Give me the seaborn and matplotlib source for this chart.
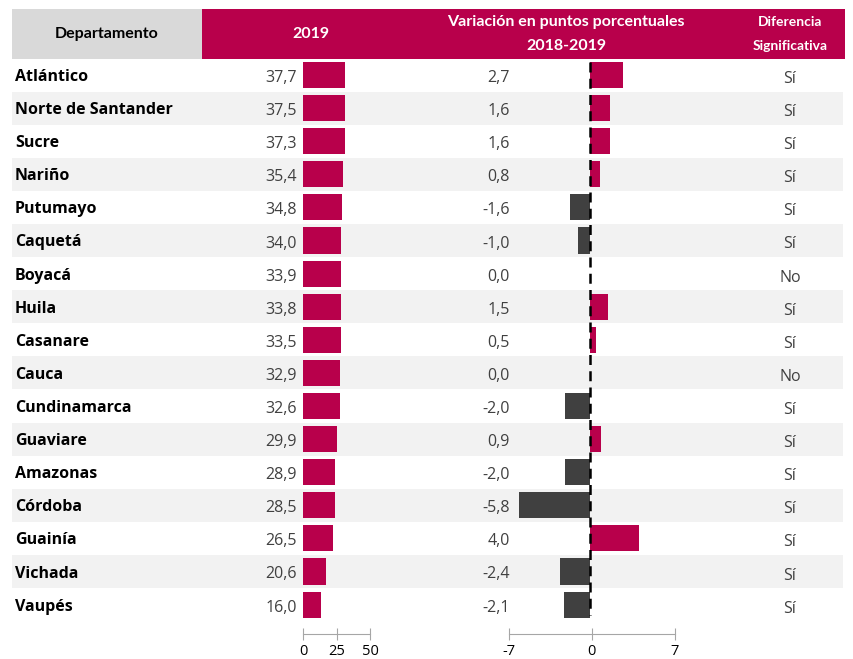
import matplotlib
matplotlib.use("Agg")
import matplotlib.pyplot as plt
from matplotlib.patches import Rectangle
import seaborn as sns
import pandas as pd

departamentos = ["Atlántico", "Norte de Santander", "Sucre", "Nariño", "Putumayo", "Caquetá",
                 "Boyacá", "Huila", "Casanare", "Cauca", "Cundinamarca", "Guaviare", "Amazonas",
                 "Córdoba", "Guainía", "Vichada", "Vaupés"]
valor_2019 = [37.7, 37.5, 37.3, 35.4, 34.8, 34.0, 33.9, 33.8, 33.5, 32.9, 32.6, 29.9, 28.9,
              28.5, 26.5, 20.6, 16.0]
variacion = [2.7, 1.6, 1.6, 0.8, -1.6, -1.0, 0.0, 1.5, 0.5, 0.0, -2.0, 0.9, -2.0, -5.8, 4.0,
             -2.4, -2.1]
diferencia = ["Sí", "Sí", "Sí", "Sí", "Sí", "Sí", "No", "Sí", "Sí", "No", "Sí", "Sí", "Sí",
              "Sí", "Sí", "Sí", "Sí"]
ticks_2019 = [0, 25, 50]
ticks_var = [-7, 0, 7]

MAG = "#B8004B"
DARK = "#404040"
BAND = "#F2F2F2"
HGRAY = "#D9D9D9"

W, H = 854, 659
fig = plt.figure(figsize=(W / 100, H / 100), dpi=100)
body_font = ["Open Sans", "DejaVu Sans"]
head_font = ["Lato", "DejaVu Sans"]

def px_axes(x0, y0, x1, y1, **kw):
    return fig.add_axes([x0 / W, 1 - y1 / H, (x1 - x0) / W, (y1 - y0) / H], **kw)

bg = px_axes(0, 0, W, H)
bg.set_xlim(0, W)
bg.set_ylim(H, 0)
bg.axis("off")
bg.set_zorder(0)

n = len(departamentos)
row0 = 75.0
step = 33.1
top = row0 - step / 2
bottom = top + n * step

# header
bg.add_patch(Rectangle((12, 9), 190, 49.5, color=HGRAY, lw=0))
bg.add_patch(Rectangle((202, 9), 643, 49.5, color=MAG, lw=0))
bg.text(107, 34, "Departamento", ha="center", va="center", fontsize=11.5,
        fontweight="bold", family=head_font, color="black")
bg.text(311, 34, "2019", ha="center", va="center", fontsize=11.5,
        fontweight="bold", family=head_font, color="white")
bg.text(566, 22, "Variación en puntos porcentuales", ha="center", va="center",
        fontsize=11.5, fontweight="bold", family=head_font, color="white")
bg.text(566, 46, "2018-2019", ha="center", va="center", fontsize=11.5,
        fontweight="bold", family=head_font, color="white")
bg.text(790, 22.5, "Diferencia", ha="center", va="center", fontsize=10,
        fontweight="bold", family=head_font, color="white")
bg.text(790, 46, "Significativa", ha="center", va="center", fontsize=10,
        fontweight="bold", family=head_font, color="white")

for i in range(n):
    yc = row0 + i * step
    if i % 2 == 1:
        bg.add_patch(Rectangle((12, yc - step / 2), 831, step, color=BAND, lw=0))
    bg.text(15, yc + 2, departamentos[i], ha="left", va="center", fontsize=11.5,
            fontweight="bold", family=body_font, color="black")
    bg.text(297, yc + 3, f"{valor_2019[i]:.1f}".replace(".", ","), ha="right", va="center",
            fontsize=11.5, family=body_font, color=DARK)
    bg.text(510, yc + 3, f"{variacion[i]:.1f}".replace(".", ","), ha="right", va="center",
            fontsize=11.5, family=body_font, color=DARK)
    bg.text(790, yc + 4, diferencia[i], ha="center", va="center",
            fontsize=11.5, family=body_font, color=DARK)

df = pd.DataFrame({"dep": departamentos, "v19": valor_2019, "var": variacion})
df["signo"] = ["pos" if v >= 0 else "neg" for v in variacion]

# bars 2019
s1 = 1.122
ax1 = px_axes(303, top, 303 + s1 * 50, bottom)
sns.barplot(data=df, x="v19", y="dep", color=MAG, width=0.79, ax=ax1, saturation=1,
            order=departamentos)
ax1.set_xlim(0, 50)
ax1.set_ylim(n - 0.5, -0.5)
ax1.axis("off")
ax1.patch.set_alpha(0)

# bars variation
s2 = 12.3
ax2 = px_axes(590 - 7 * s2, top, 590 + 7 * s2, bottom)
sns.barplot(data=df, x="var", y="dep", hue="signo", palette={"pos": MAG, "neg": DARK},
            dodge=False, width=0.79, ax=ax2, saturation=1, legend=False, order=departamentos)
ax2.vlines(0, -0.4, n - 0.7, colors="black", linestyles=(0, (4, 2.5)), lw=1.8)
ax2.set_xlim(-7, 7)
ax2.set_ylim(n - 0.5, -0.5)
ax2.axis("off")
ax2.patch.set_alpha(0)

# tick axes
def tick_axis(x0, x1, lo, hi, ticks):
    ax = px_axes(x0, 624, x1, 634)
    ax.set_xlim(lo, hi)
    ax.set_xticks(ticks)
    ax.set_xticklabels([str(t) for t in ticks], fontsize=10.5, family=body_font, color="black")
    ax.set_yticks([])
    for sp in ["top", "left", "right"]:
        ax.spines[sp].set_visible(False)
    ax.spines["bottom"].set_color("#A6A6A6")
    ax.tick_params(axis="x", direction="inout", length=9, color="#A6A6A6", pad=3)
    ax.patch.set_alpha(0)

tick_axis(303.3, 370, 0, 50, ticks_2019)
tick_axis(508.7, 674.7, -7, 7, ticks_var)

fig.savefig("out.png", dpi=100)
